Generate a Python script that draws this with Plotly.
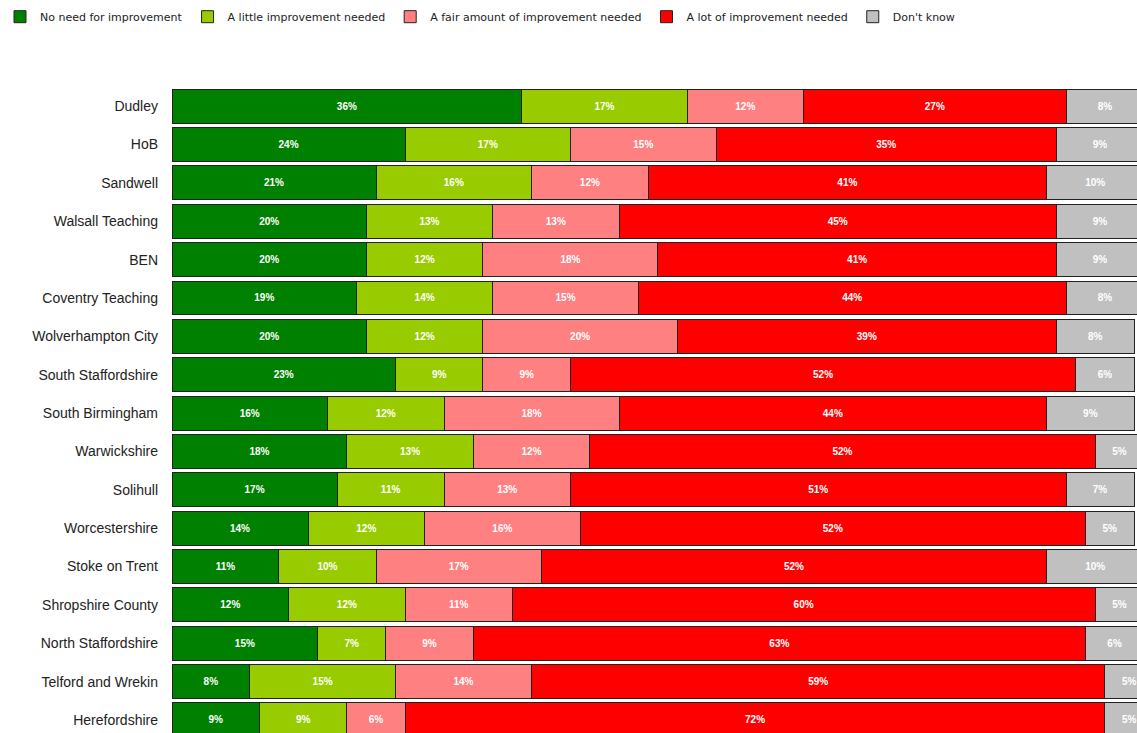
import plotly.graph_objects as go

categories = ["Dudley", "HoB", "Sandwell", "Walsall Teaching", "BEN", "Coventry Teaching",
              "Wolverhampton City", "South Staffordshire", "South Birmingham", "Warwickshire",
              "Solihull", "Worcestershire", "Stoke on Trent", "Shropshire County",
              "North Staffordshire", "Telford and Wrekin", "Herefordshire"]

no_need = [36, 24, 21, 20, 20, 19, 20, 23, 16, 18, 17, 14, 11, 12, 15, 8, 9]
a_little = [17, 17, 16, 13, 12, 14, 12, 9, 12, 13, 11, 12, 10, 12, 7, 15, 9]
fair_amount = [12, 15, 12, 13, 18, 15, 20, 9, 18, 12, 13, 16, 17, 11, 9, 14, 6]
a_lot = [27, 35, 41, 45, 41, 44, 39, 52, 44, 52, 51, 52, 52, 60, 63, 59, 72]
dont_know = [8, 9, 10, 9, 9, 8, 8, 6, 9, 5, 7, 5, 10, 5, 6, 5, 5]

series_names = ["No need for improvement", "A little improvement needed",
                "A fair amount of improvement needed", "A lot of improvement needed",
                "Don't know"]
series_values = [no_need, a_little, fair_amount, a_lot, dont_know]
colors = ["#008000", "#99CC00", "#FF8080", "#FF0000", "#C0C0C0"]

fig = go.Figure()
for name, vals, col in zip(series_names, series_values, colors):
    fig.add_trace(go.Bar(
        y=categories, x=vals, name=name, orientation="h",
        marker=dict(color=col, line=dict(color="#222222", width=1)),
        text=[f"{v}%" for v in vals], textposition="inside",
        insidetextanchor="middle", textangle=0,
        textfont=dict(color="white", size=10, family="Liberation Sans", weight="bold"),
        constraintext="none",
    ))

fig.update_layout(
    barmode="stack", bargap=0.115,
    width=1137, height=733,
    margin=dict(l=172, r=0, t=87, b=0),
    plot_bgcolor="white", paper_bgcolor="white",
    font=dict(family="Liberation Sans", color="#222222"),
    showlegend=True,
    legend=dict(orientation="h", x=-0.012, xref="container", y=0.997, yref="container",
                yanchor="top", xanchor="left",
                font=dict(size=11, color="#222222", family="DejaVu Sans"),
                itemwidth=30, entrywidth=0, traceorder="normal", tracegroupgap=0),
    uniformtext=dict(mode=False),
)
fig.update_xaxes(range=[0, 99.3], showticklabels=False, showgrid=False,
                 zeroline=False, showline=False)
fig.update_yaxes(range=[16.34, -0.5], showgrid=False, showline=False,
                 ticks="", ticklabelstandoff=13,
                 tickfont=dict(size=14, color="#222222", family="Liberation Sans"))

fig.write_html("out.html", config={"displayModeBar": False},
               post_script="document.body.style.margin='0';document.body.style.overflow='hidden';")
